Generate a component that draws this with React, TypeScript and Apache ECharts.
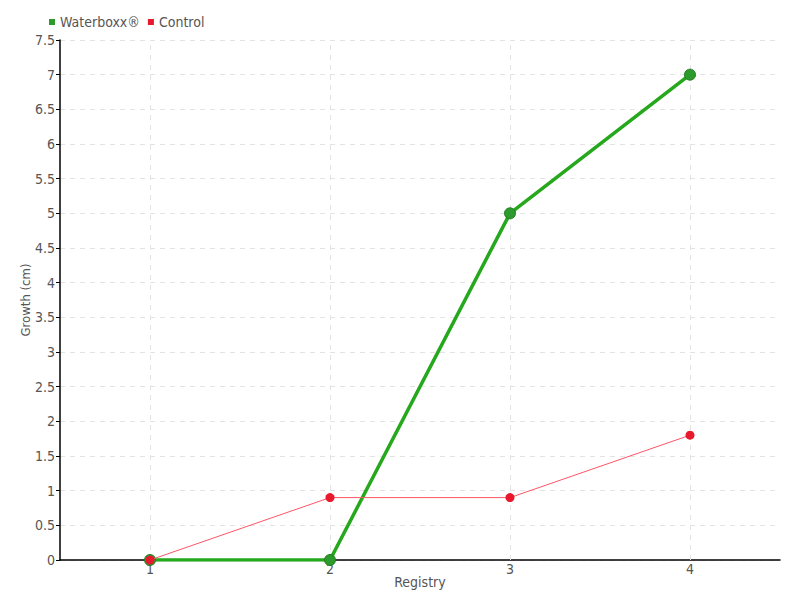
import React, { useEffect, useRef } from "react";
import * as echarts from "echarts";

const registries = [1, 2, 3, 4];
const waterboxx = [0, 0, 5, 7];
const control = [0, 0.9, 0.9, 1.8];
const seriesNames = ["Waterboxx®", "Control"];
const xTitle = "Registry";
const yTitle = "Growth (cm)";

const FONT = "'Liberation Sans Narrow', 'DejaVu Sans Condensed', sans-serif";

export default function App() {
  const ref = useRef<HTMLDivElement>(null);
  useEffect(() => {
    if (!ref.current) return;
    const chart = echarts.init(ref.current, undefined, { renderer: "svg" });
    const pairs = (ys: number[]) => registries.map((x, i) => [x, ys[i]]);
    chart.setOption({
      animation: false,
      textStyle: { fontFamily: FONT },
      legend: {
        left: 44,
        top: 10,
        icon: "rect",
        itemWidth: 6,
        itemHeight: 6,
        itemGap: 8,
        itemStyle: { borderWidth: 0 },
        textStyle: { fontFamily: FONT, fontSize: 14, color: "#555" },
        data: seriesNames,
      },
      grid: { left: 60, right: 20, top: 40, bottom: 40, containLabel: false, outerBoundsMode: "none" },
      xAxis: {
        type: "value",
        min: 0.5,
        max: 4.5,
        name: xTitle,
        nameLocation: "middle",
        nameGap: 15,
        nameMoveOverlap: false,
        nameTextStyle: { fontFamily: FONT, fontSize: 14, color: "#555" },
        axisLine: { lineStyle: { color: "#000", width: 1.5 } },
        axisTick: { inside: true, length: 4, customValues: registries, lineStyle: { color: "#000" } },
        axisLabel: { customValues: registries, margin: 2, fontFamily: FONT, fontSize: 14, color: "#555" },
        splitLine: { show: false },
      },
      yAxis: {
        type: "value",
        min: 0,
        max: 7.5,
        interval: 0.5,
        name: yTitle,
        nameLocation: "middle",
        nameGap: 28,
        nameMoveOverlap: false,
        nameTextStyle: { fontFamily: FONT, fontSize: 13, color: "#555" },
        axisLine: { show: true, lineStyle: { color: "#000", width: 1.5 } },
        axisTick: { show: true, length: 4, lineStyle: { color: "#000" } },
        axisLabel: { margin: 5, fontFamily: FONT, fontSize: 14, color: "#555" },
        splitLine: { show: true, lineStyle: { color: "#e3e3e3", type: [5, 5], width: 1 } },
      },
      series: [
        {
          name: seriesNames[0],
          type: "line",
          data: pairs(waterboxx),
          symbol: "circle",
          symbolSize: 11,
          color: "#22a11a",
          lineStyle: { color: "#25a81c", width: 3.5 },
          itemStyle: { color: "#2d9a2d", borderColor: "#1e7e1e", borderWidth: 1 },
          z: 3,
          markLine: {
            silent: true,
            symbol: "none",
            label: { show: false },
            lineStyle: { color: "#e3e3e3", type: [5, 5], width: 1 },
            data: registries.map((x) => ({ xAxis: x })),
            z: 1,
          },
        },
        {
          name: seriesNames[1],
          type: "line",
          data: pairs(control),
          symbol: "circle",
          symbolSize: 9,
          color: "#ee1133",
          lineStyle: { color: "#ff5566", width: 1 },
          itemStyle: { color: "#e8192c", borderColor: "#e8192c", borderWidth: 0 },
          z: 4,
        },
      ],
    });
    return () => chart.dispose();
  }, []);
  return <div ref={ref} style={{ width: 800, height: 600, position: "absolute", left: 0, top: 0 }} />;
}
